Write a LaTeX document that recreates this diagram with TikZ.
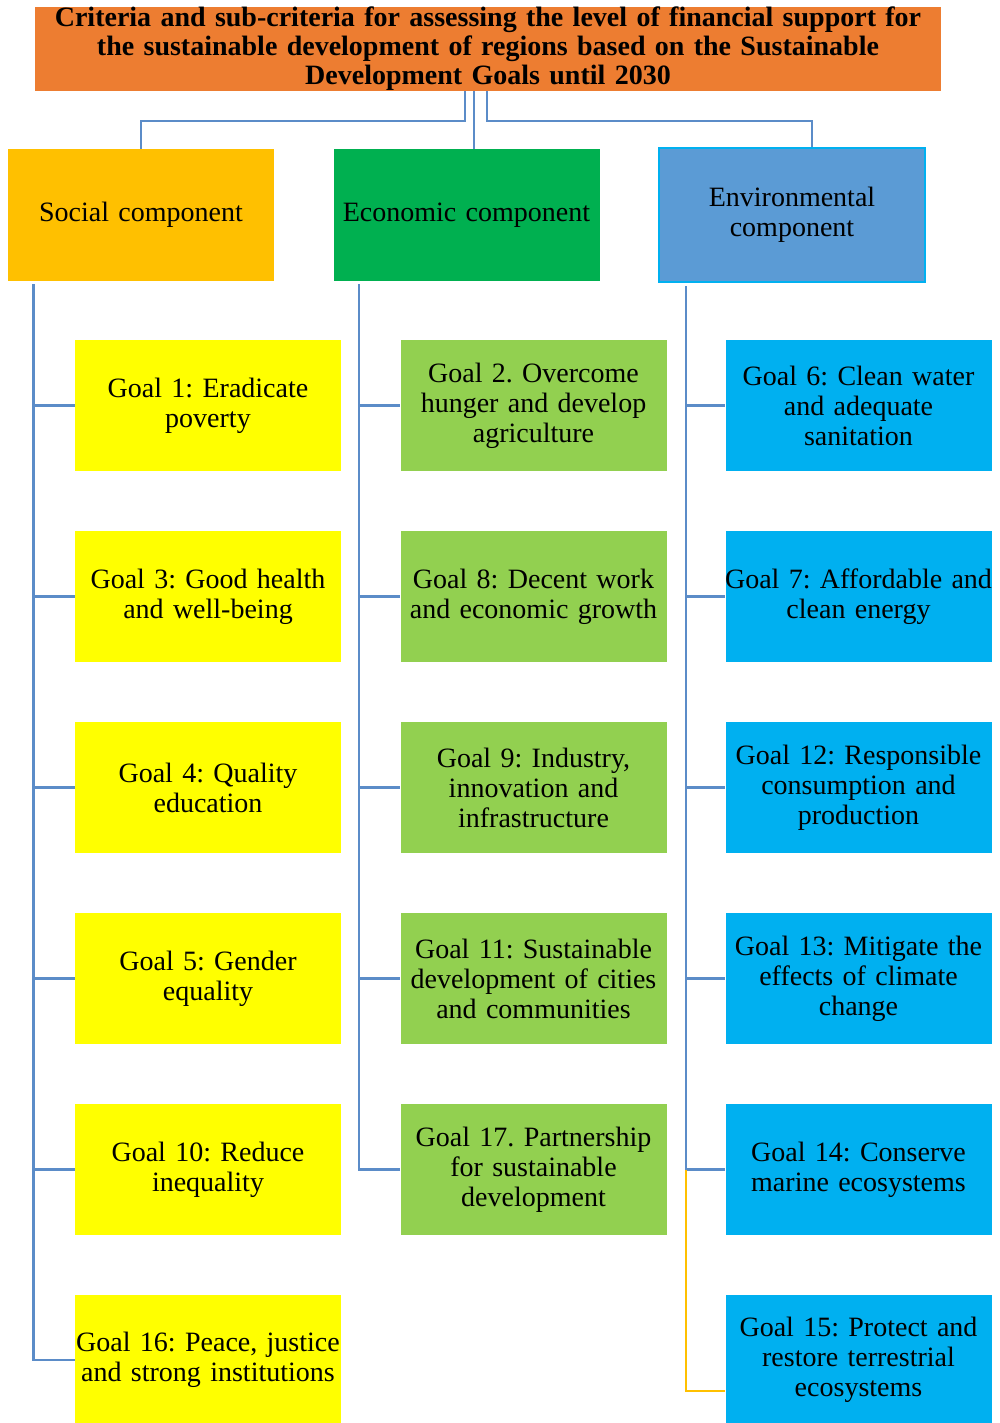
\documentclass[tikz,border=0pt]{standalone}
\usepackage{fontspec}
\setmainfont{Liberation Serif}
\usepackage{tikz}
\usetikzlibrary{calc}
\definecolor{hdrorange}{HTML}{ED7D31}
\definecolor{socgold}{HTML}{FFC000}
\definecolor{ecogreen}{HTML}{00B050}
\definecolor{envblue}{HTML}{5B9BD5}
\definecolor{envedge}{HTML}{00B0F0}
\definecolor{goalyellow}{HTML}{FFFF00}
\definecolor{goalgreen}{HTML}{92D050}
\definecolor{goalblue}{HTML}{00B0F0}
\definecolor{linkblue}{HTML}{5B8CC8}

\begin{document}
\begin{tikzpicture}[x=0.5pt,y=-0.5pt]
          \tikzstyle{box}=[inner sep=0pt,align=center,font=\frenchspacing\fontsize{14}{15}\selectfont]
          \tikzstyle{cbox}=[box,minimum width=133pt,minimum height=66pt,text width=133pt]
          \tikzstyle{gbox}=[box,minimum width=133pt,minimum height=65.5pt,text width=137pt,inner xsep=-2pt]
          \tikzstyle{link}=[draw,line width=1.2pt,color=linkblue]
          \tikzstyle{ylink}=[draw,line width=.6pt,color=socgold]
          \useasboundingbox (0,0) rectangle (1000,1423);
          % header
          \node[box,fill=hdrorange,minimum width=453pt,minimum height=40pt,text width=453pt,
                font=\frenchspacing\bfseries\fontsize{14}{14.5}\selectfont] (title) at (488,49)
               {Criteria and sub-criteria for assessing the level of financial support for\\
                the sustainable development of regions based on the Sustainable\\
                Development Goals until 2030};
          % components
          \node[cbox,fill=socgold] (soc) at (141,215) {Social component};
          \node[cbox,fill=ecogreen] (eco) at (466.5,215) {Economic component};
          \node[cbox,fill=envblue,draw=envedge,line width=1pt,minimum height=67pt] (env) at (792,215) {Environmental\\component};
          % social goals
          \node[gbox,fill=goalyellow] (g1) at (208,405.5) {Goal 1: Eradicate\\poverty};
          \node[gbox,fill=goalyellow] (g3) at (208,596.5) {Goal 3: Good health\\and well-being};
          \node[gbox,fill=goalyellow] (g4) at (208,787.5) {Goal 4: Quality\\education};
          \node[gbox,fill=goalyellow] (g5) at (208,978.5) {Goal 5: Gender\\equality};
          \node[gbox,fill=goalyellow] (g10) at (208,1169.5) {Goal 10: Reduce\\inequality};
          \node[gbox,fill=goalyellow] (g16) at (208,1360) {Goal 16: Peace, justice\\and strong institutions};
          % economic goals
          \node[gbox,fill=goalgreen] (g2) at (533.5,405.5) {Goal 2. Overcome\\hunger and develop\\agriculture};
          \node[gbox,fill=goalgreen] (g8) at (533.5,596.5) {Goal 8: Decent work\\and economic growth};
          \node[gbox,fill=goalgreen] (g9) at (533.5,787.5) {Goal 9: Industry,\\innovation and\\infrastructure};
          \node[gbox,fill=goalgreen] (g11) at (533.5,978.5) {Goal 11: Sustainable\\development of cities\\and communities};
          \node[gbox,fill=goalgreen] (g17) at (533.5,1169.5) {Goal 17. Partnership\\for sustainable\\development};
          % environmental goals
          \node[gbox,fill=goalblue] (g6) at (858.5,405.5) {Goal 6: Clean water\\and adequate\\sanitation};
          \node[gbox,fill=goalblue] (g7) at (858.5,596.5) {Goal 7: Affordable and\\clean energy};
          \node[gbox,fill=goalblue] (g12) at (858.5,787.5) {Goal 12: Responsible\\consumption and\\production};
          \node[gbox,fill=goalblue] (g13) at (858.5,978.5) {Goal 13: Mitigate the\\effects of climate\\change};
          \node[gbox,fill=goalblue] (g14) at (858.5,1169.5) {Goal 14: Conserve\\marine ecosystems};
          \node[gbox,fill=goalblue] (g15) at (858.5,1360) {Goal 15: Protect and\\restore terrestrial\\ecosystems};
          % header links
          \coordinate (tl) at ([xshift=-11.5pt]title.south);
          \coordinate (tm) at ([xshift=-7pt]title.south);
          \coordinate (tr) at ([xshift=-0.5pt]title.south);
          \draw[link] (tl) -- ++(0,30) -| (soc.north);
          \draw[link] (tm) -- (tm |- eco.north);
          \draw[link] (tr) -- ++(0,30) -| ([xshift=10pt]env.north);
          % spines
          \coordinate (socspine) at ([xshift=13pt,yshift=-1.5pt]soc.south west);
          \coordinate (ecospine) at ([xshift=13pt,yshift=-1.5pt]eco.south west);
          \coordinate (envspine) at ([xshift=14pt,yshift=-1.5pt]env.south west);
          \foreach \g in {g1,g3,g4,g5,g10,g16}
            \draw[link] (socspine) |- (\g.west);
          \foreach \g in {g2,g8,g9,g11,g17}
            \draw[link] (ecospine) |- (\g.west);
          \foreach \g in {g6,g7,g12,g13,g14}
            \draw[link] (envspine) |- (\g.west);
          \draw[ylink] (envspine |- g14.west) |- ([yshift=-15.5pt]g15.west);
        \end{tikzpicture}
\end{document}
